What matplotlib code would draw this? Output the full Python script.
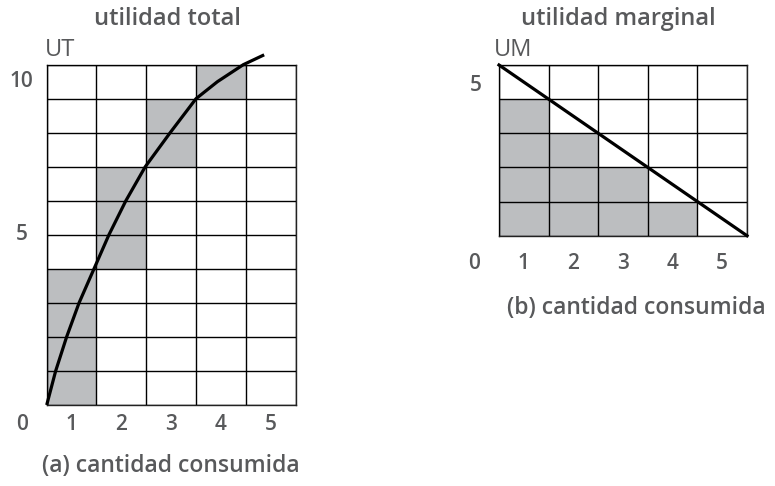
import matplotlib
matplotlib.use("Agg")
import matplotlib.pyplot as plt

# ---- data ----
x_labels = ["0", "1", "2", "3", "4", "5"]
ut_steps = [0, 4, 7, 9, 10]          # total utility after each unit
mu_values = [4, 3, 2, 1]             # marginal utility (grey cells)
ut_curve_x = [0, 0.18, 0.40, 0.65, 0.95, 1.25, 1.59, 1.98, 2.48, 3.0, 3.43, 3.95, 4.37]
ut_curve_y = [0, 1, 2, 3, 4, 5, 6, 7, 8, 9, 9.5, 10, 10.29]
um_line_x = [0, 5]
um_line_y = [5, 0]
left_ylabels = {"10": 9.5, "5": 5.0}
right_ylabels = {"5": 4.4}

TXT = "#58595b"
GREY = "#bcbec0"
FONT = "Open Sans"

W, H = 775, 486
fig = plt.figure(figsize=(W / 100, H / 100), dpi=100)

def make_ax(x0, x1, y0, y1):
    return fig.add_axes([x0 / W, 1 - y1 / H, (x1 - x0) / W, (y1 - y0) / H])

def style_grid(ax, ncols, nrows):
    ax.set_xlim(0, ncols)
    ax.set_ylim(0, nrows)
    ax.set_xticks(range(ncols + 1))
    ax.set_yticks(range(nrows + 1))
    ax.tick_params(length=0, labelbottom=False, labelleft=False)
    ax.grid(True, color="black", linewidth=1.0)
    ax.set_axisbelow(False)
    for s in ax.spines.values():
        s.set_linewidth(1.0)
        s.set_color("#222222")

# ---- left panel: utilidad total ----
axL = make_ax(46.7, 295.5, 64.7, 405)
style_grid(axL, 5, 10)
axL.bar([i + 0.5 for i in range(len(mu_values))], mu_values,
        bottom=ut_steps[:-1], width=1.0, color=GREY, zorder=0.5, linewidth=0)
axL.plot(ut_curve_x, ut_curve_y, color="black", linewidth=2.3,
         clip_on=False, zorder=5, solid_capstyle="butt", solid_joinstyle="round")

for i, lab in enumerate(x_labels):
    axL.text(i - 0.5, -0.57, lab, ha="center", va="center", color=TXT,
             fontsize=15, fontfamily=FONT, fontweight="semibold")
for lab, yv in left_ylabels.items():
    axL.text(-0.5, yv, lab, ha="center", va="center", color=TXT,
             fontsize=15, fontfamily=FONT, fontweight="semibold")

fig.text(168 / W, 1 - 19 / H, "utilidad total", ha="center", va="center",
         color=TXT, fontsize=17, fontfamily=FONT, fontweight="semibold")
fig.text(45 / W, 1 - 50 / H, "UT", ha="left", va="center",
         color=TXT, fontsize=17, fontfamily=FONT)
fig.text(171 / W, 1 - 466 / H, "(a) cantidad consumida", ha="center", va="center",
         color=TXT, fontsize=16.5, fontfamily=FONT, fontweight="semibold")

# ---- right panel: utilidad marginal ----
axR = make_ax(499, 747, 65, 235.7)
style_grid(axR, 5, 5)
axR.bar([i + 0.5 for i in range(len(mu_values))], mu_values,
        width=1.0, color=GREY, zorder=0.5, linewidth=0)
axR.plot(um_line_x, um_line_y, color="black", linewidth=2.3,
         clip_on=False, zorder=5)

for i, lab in enumerate(x_labels):
    axR.text(i - 0.5, -0.8, lab, ha="center", va="center", color=TXT,
             fontsize=15, fontfamily=FONT, fontweight="semibold")
for lab, yv in right_ylabels.items():
    axR.text(-0.47, yv, lab, ha="center", va="center", color=TXT,
             fontsize=15, fontfamily=FONT, fontweight="semibold")

fig.text(618 / W, 1 - 19 / H, "utilidad marginal", ha="center", va="center",
         color=TXT, fontsize=17, fontfamily=FONT, fontweight="semibold")
fig.text(494 / W, 1 - 50 / H, "UM", ha="left", va="center",
         color=TXT, fontsize=17, fontfamily=FONT)
fig.text(636 / W, 1 - 308 / H, "(b) cantidad consumida", ha="center", va="center",
         color=TXT, fontsize=16.5, fontfamily=FONT, fontweight="semibold")

fig.savefig("out.png", dpi=100, facecolor="white")
